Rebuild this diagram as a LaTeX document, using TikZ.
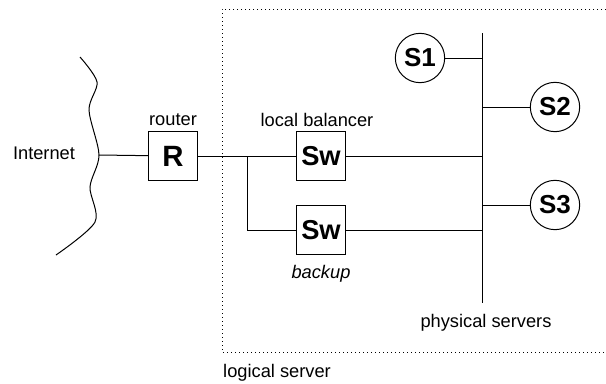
\documentclass[tikz,border=0pt]{standalone}
\usepackage{fontspec}
\setmainfont{Liberation Sans}
\usetikzlibrary{shapes,arrows}

\begin{document}
\begin{tikzpicture}[x=0.75pt,y=-0.75pt,line width=0.75pt,
  every node/.style={font=\fontsize{13.7}{16}\selectfont},
  dev/.style={draw,minimum size=37pt,inner sep=0pt,font=\fontsize{20.5}{24}\selectfont\bfseries},
  srv/.style={draw,circle,minimum size=37pt,inner sep=0pt,font=\fontsize{19.5}{22}\selectfont\bfseries}]
\useasboundingbox (0,0) rectangle (606,383);
% logical server frame, open to the right
\draw[dash pattern=on 0.75pt off 2.25pt] (606,9) -- (222,9) -- (222,352) -- (606,352);
\node at (277,373) {logical server};
% internet cloud edge
\draw plot[smooth,tension=0.5] coordinates {(80,57) (97,82) (89,110) (99,155) (90,187) (95,222) (56,255)};
\coordinate (net) at (99,155);
\node (inet) at (44,153) {Internet};
% router
\node[dev,font=\fontsize{22}{26}\selectfont\bfseries] (R) at (173,156) {R};
\node at (173,120) {router};
% balancers
\node[dev] (Sw1) at (321,156) {Sw};
\node[dev] (Sw2) at (321,230) {Sw};
\node at (317,120) {local balancer};
\node at (321,274) {\itshape backup};
\coordinate (j) at (247,156);
% servers
\coordinate (bustop) at (482,33);
\coordinate (busbot) at (482,303);
\node[srv] (S1) at (420,58) {S1};
\node[srv] (S2) at (555,107) {S2};
\node[srv] (S3) at (555,205) {S3};
\node at (486,323) {physical servers};
% links
\draw (net) -- (R);
\draw (R) -- (Sw1);
\draw (j) |- (Sw2);
\draw (bustop) -- (busbot);
\draw (Sw1) -- (Sw1 -| bustop);
\draw (Sw2) -- (Sw2 -| bustop);
\draw (S1) -- (S1 -| bustop);
\draw (S2) -- (S2 -| bustop);
\draw (S3) -- (S3 -| bustop);
\end{tikzpicture}
\end{document}
